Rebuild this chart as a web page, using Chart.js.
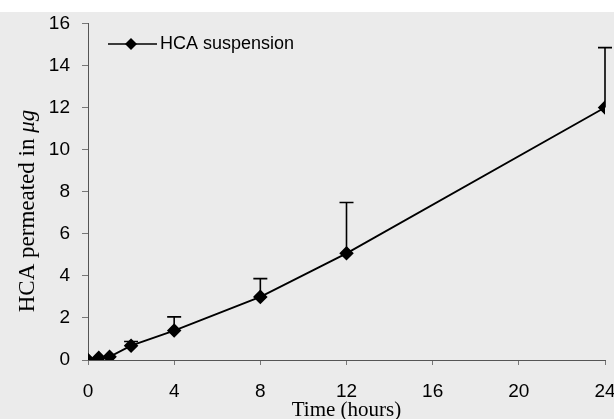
<!DOCTYPE html>
<html>
<head>
<meta charset="utf-8">
<script src="https://cdn.jsdelivr.net/npm/chart.js@4/dist/chart.umd.min.js"></script>
<style>
html,body{margin:0;padding:0;background:#ffffff;}
#wrap{width:614px;height:419px;position:relative;}
</style>
</head>
<body>
<div id="wrap"><canvas id="c" width="614" height="419"></canvas></div>
<script>
// ---- data ----
const timeHours = [0, 0.5, 1, 2, 4, 8, 12, 24];
const hcaMean   = [0, 0.1, 0.15, 0.68, 1.4, 3.0, 5.07, 12.0];
const hcaSD     = [0, 0, 0, 0.2, 0.65, 0.87, 2.42, 2.85];
const xTicks    = [0, 4, 8, 12, 16, 20, 24];
const yTicks    = [0, 2, 4, 6, 8, 10, 12, 14, 16];
const seriesName = 'HCA suspension';
const xTitle = 'Time (hours)';
const yTitleMain = 'HCA permeated in ';
const yTitleUnit = 'μg';

const tickFont = "'Liberation Sans', Arial, sans-serif";
const serifFont = "'Liberation Serif', 'Times New Roman', serif";

const points = timeHours.map((t, i) => ({x: t, y: hcaMean[i]}));

const backdrop = {
  id: 'backdrop',
  beforeDraw(chart) {
    const ctx = chart.ctx;
    ctx.save();
    ctx.fillStyle = '#ffffff';
    ctx.fillRect(0, 0, chart.width, chart.height);
    ctx.fillStyle = '#ebebeb';
    ctx.fillRect(0, 12, chart.width, chart.height - 12);
    ctx.restore();
  }
};

const errorBars = {
  id: 'errorBars',
  afterDatasetsDraw(chart) {
    const ctx = chart.ctx;
    const xs = chart.scales.x, ys = chart.scales.y;
    ctx.save();
    ctx.strokeStyle = '#000';
    ctx.lineWidth = 1.6;
    timeHours.forEach((t, i) => {
      if (!hcaSD[i]) return;
      const px = xs.getPixelForValue(t);
      const py = ys.getPixelForValue(hcaMean[i]);
      const pt = ys.getPixelForValue(hcaMean[i] + hcaSD[i]);
      ctx.beginPath();
      ctx.moveTo(px, py);
      ctx.lineTo(px, pt);
      ctx.moveTo(px - 7, pt);
      ctx.lineTo(px + 7, pt);
      ctx.stroke();
    });
    ctx.restore();
  }
};

const extraText = {
  id: 'extraText',
  afterDraw(chart) {
    const ctx = chart.ctx;
    ctx.save();
    // legend
    const ly = 44;
    ctx.strokeStyle = '#000';
    ctx.lineWidth = 1.6;
    ctx.beginPath();
    ctx.moveTo(108, ly);
    ctx.lineTo(157, ly);
    ctx.stroke();
    ctx.fillStyle = '#000';
    ctx.beginPath();
    ctx.moveTo(131, ly - 6);
    ctx.lineTo(137, ly);
    ctx.lineTo(131, ly + 6);
    ctx.lineTo(125, ly);
    ctx.closePath();
    ctx.fill();
    ctx.font = "18px " + tickFont;
    ctx.textBaseline = 'middle';
    ctx.textAlign = 'left';
    ctx.fillText(seriesName, 160, ly);
    // y title
    ctx.translate(28, 211);
    ctx.rotate(-Math.PI / 2);
    ctx.font = "23px " + serifFont;
    const w1 = ctx.measureText(yTitleMain).width;
    ctx.font = "italic 23px " + serifFont;
    const w2 = ctx.measureText(yTitleUnit).width;
    const start = -(w1 + w2) / 2;
    ctx.textBaseline = 'middle';
    ctx.font = "23px " + serifFont;
    ctx.fillText(yTitleMain, start, 0);
    ctx.font = "italic 23px " + serifFont;
    ctx.fillText(yTitleUnit, start + w1, 0);
    ctx.restore();
  }
};

new Chart(document.getElementById('c'), {
  type: 'line',
  data: {
    datasets: [{
      label: seriesName,
      data: points,
      borderColor: '#000',
      backgroundColor: '#000',
      borderWidth: 1.8,
      pointStyle: 'rectRot',
      pointRadius: 6,
      pointHoverRadius: 6,
      tension: 0
    }]
  },
  options: {
    responsive: false,
    animation: false,
    events: [],
    layout: {padding: {top: 22, right: 9, left: 0, bottom: 0}},
    plugins: {legend: {display: false}, tooltip: {enabled: false}},
    scales: {
      x: {
        type: 'linear',
        min: 0, max: 24,
        afterBuildTicks(scale) { scale.ticks = xTicks.map(v => ({value: v})); },
        afterFit(scale) { scale.height = 59; scale.paddingRight = 0; scale.paddingLeft = 0; },
        ticks: {color: '#000', font: {family: tickFont, size: 19}, padding: 15},
        grid: {drawOnChartArea: false, tickLength: 5, color: '#777'},
        border: {dash: [3, 3], color: '#555', width: 1},
        title: {display: true, text: xTitle, color: '#000', font: {family: serifFont, size: 21}, padding: {top: 0, bottom: -4}}
      },
      y: {
        type: 'linear',
        min: 0, max: 16,
        afterBuildTicks(scale) { scale.ticks = yTicks.map(v => ({value: v})); },
        afterFit(scale) { scale.width = 88; },
        ticks: {color: '#000', font: {family: tickFont, size: 19}, padding: 12},
        grid: {drawOnChartArea: false, tickLength: 6, color: '#777'},
        border: {dash: [3, 3], color: '#555', width: 1}
      }
    }
  },
  plugins: [backdrop, errorBars, extraText]
});
</script>
</body>
</html>
